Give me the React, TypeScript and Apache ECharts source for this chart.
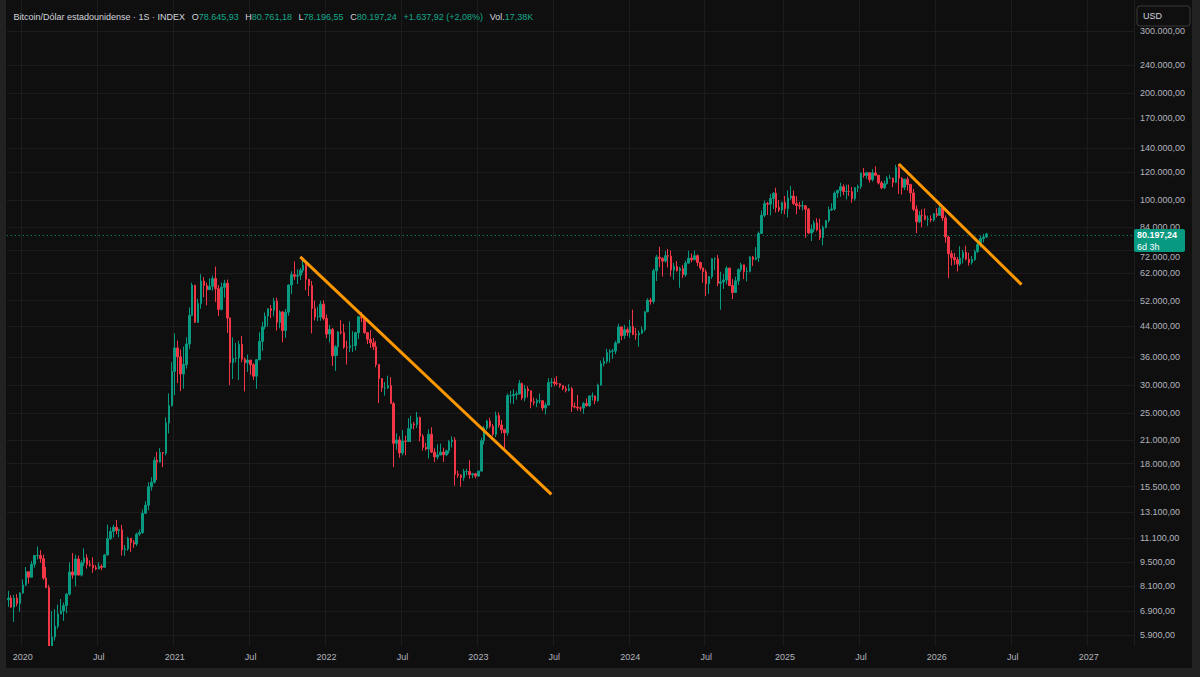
import React, { useEffect, useRef } from "react";
import * as echarts from "echarts";

// ---- DATA (weekly candles, USD) ----
const START_WEEK = "2019-12-02";
const AXIS_WEEKS = 386;
const FIRST_OPEN = 7420;

const close2019 = [7510, 7080, 7500, 7250, 7760];
const high2019 = [7870, 7650, 7660, 7700, 7800];
const low2019 = [7090, 7030, 6430, 7120, 6870];

const close2020 = [8180, 8910, 8600, 9350, 9900, 9900, 9700, 8550, 8040, 5360, 5830, 6250, 6770, 6900, 7150, 7700, 8900, 8720, 9680, 8720, 9450, 9750, 9340, 9300, 9140, 9070, 9230, 9170, 9930, 11050, 11580, 11910, 11650, 11700, 10280, 10330, 11080, 10770, 10670, 11380, 11500, 13030, 13740, 15480, 15960, 18400, 18180, 19360, 19270, 23460, 26250, 32800];
const high2020 = [8470, 9190, 8780, 9550, 9940, 10500, 10250, 9960, 9190, 8180, 6900, 6980, 7200, 7460, 7290, 7750, 9460, 10070, 9960, 9900, 9600, 10380, 9990, 9600, 9790, 9310, 9470, 9350, 10000, 12100, 11900, 12100, 12480, 11780, 12080, 10600, 11180, 10990, 10950, 11490, 11720, 13350, 14100, 15960, 16480, 18800, 19420, 19900, 19400, 24300, 28400, 34800];
const low2020 = [7730, 8110, 8250, 8570, 9150, 9650, 9450, 8450, 8000, 3850, 4450, 5690, 6150, 6780, 6470, 6800, 7630, 8520, 8100, 8700, 8640, 9250, 9100, 9200, 8850, 8990, 9060, 9000, 9150, 9940, 10950, 11130, 11380, 11150, 9900, 9880, 10210, 10140, 10400, 10530, 11220, 11400, 12990, 13290, 15100, 15800, 16200, 18150, 17600, 19000, 21900, 26100];

const close2021 = [38200, 36050, 32260, 34300, 39200, 47200, 57480, 45140, 50970, 59000, 57350, 55800, 57050, 60000, 56150, 49100, 56700, 58200, 46400, 34700, 35680, 35800, 39100, 35500, 34700, 35300, 34250, 31800, 35400, 39850, 43800, 47000, 49300, 48800, 51800, 45100, 48300, 42800, 48200, 57500, 61500, 60900, 61300, 63300, 65500, 59700, 57300, 49400, 46700, 46700, 50800, 46300];
const high2021 = [41950, 40100, 37850, 38550, 40950, 49700, 58350, 57530, 52600, 61700, 60600, 58400, 60100, 61200, 64850, 57500, 58450, 59500, 59600, 46600, 40900, 39450, 40000, 41300, 35900, 36600, 35100, 34600, 35400, 42300, 45300, 48100, 49400, 50500, 52900, 52950, 48800, 48500, 49200, 57800, 62900, 67000, 63700, 64300, 69000, 66300, 59300, 59100, 51900, 50000, 51900, 52100];
const low2021 = [28100, 30400, 28850, 29300, 33400, 38000, 47000, 44900, 44950, 49300, 53200, 50400, 55900, 55500, 51500, 47000, 48800, 53000, 42100, 30000, 31200, 34800, 31000, 34800, 28800, 32700, 32100, 31000, 29300, 35200, 37500, 43100, 43900, 46400, 46900, 42800, 43400, 39600, 40800, 47100, 54200, 59500, 57900, 59500, 62300, 55600, 53500, 42000, 45700, 45500, 45600, 45700];

const close2022 = [41800, 43100, 36300, 38500, 42400, 42200, 38400, 38300, 38800, 38800, 42200, 46800, 46400, 42200, 40400, 39500, 38500, 34300, 31300, 29450, 29450, 29900, 26600, 20550, 21000, 19300, 20850, 20800, 22600, 23300, 23200, 24300, 21500, 20000, 19800, 21800, 19400, 18800, 19050, 19400, 19070, 19570, 20800, 21000, 16800, 16700, 16450, 17100, 17100, 16750, 16850, 16600];
const high2022 = [47500, 44400, 43500, 38900, 42600, 45800, 44700, 40000, 45400, 42600, 42400, 47000, 48200, 47000, 42400, 42900, 40800, 40000, 34200, 31000, 30600, 31900, 31600, 26900, 21900, 21500, 22400, 21600, 24200, 24600, 23600, 25200, 24450, 21800, 20600, 22500, 22800, 19900, 20400, 20500, 19950, 19700, 21000, 21500, 21400, 17200, 16800, 17400, 17400, 18400, 16950, 16950];
const low2022 = [40700, 39600, 34000, 32900, 36300, 41700, 38000, 34300, 37200, 37200, 37600, 40500, 45200, 41900, 39200, 38200, 37700, 33700, 26700, 28700, 28000, 29300, 26600, 17600, 19700, 18700, 19000, 19000, 20700, 20700, 22500, 22700, 20800, 19600, 19600, 18600, 19300, 18200, 18500, 19000, 18200, 18900, 19200, 20000, 15600, 16400, 15500, 16100, 16700, 16300, 16400, 16350];

const close2023 = [17150, 20900, 22700, 23750, 22950, 21780, 24600, 23150, 22430, 22000, 28000, 28000, 28200, 28330, 30300, 27590, 29250, 28900, 26900, 26750, 27100, 27100, 25850, 26340, 30500, 30600, 30300, 30250, 29900, 29300, 29000, 29300, 26100, 26000, 25850, 25830, 26600, 26250, 27950, 27950, 27150, 30000, 34500, 35000, 37100, 37400, 37450, 39450, 43800, 41400, 43000, 42250];
const high2023 = [17200, 21300, 23000, 23950, 24250, 23300, 25250, 25100, 23900, 22600, 28400, 28900, 29200, 28800, 31000, 30500, 30000, 29800, 29000, 27650, 27500, 28400, 27150, 26800, 31400, 31400, 31400, 31800, 30400, 30000, 29800, 30200, 29650, 26800, 28150, 26100, 26900, 27500, 28050, 28600, 28000, 30300, 35200, 35900, 38000, 37900, 38000, 40000, 44700, 43500, 44400, 43700];
const low2023 = [16500, 17100, 20400, 22400, 22650, 21500, 21400, 22750, 21900, 19600, 21600, 26600, 26500, 27300, 28200, 27200, 27000, 27700, 25800, 26300, 26000, 26600, 25400, 24800, 26300, 29600, 29800, 29950, 29500, 29000, 28600, 28800, 25200, 25800, 25400, 25300, 24900, 26100, 26000, 27150, 26500, 26900, 29900, 33900, 34500, 34700, 35600, 36700, 39400, 40200, 40500, 41300];

const close2024 = [43900, 41700, 41600, 42050, 43000, 48300, 52100, 51700, 63100, 68900, 68400, 67200, 69600, 69400, 63400, 64900, 63100, 64000, 61500, 66300, 68500, 67800, 69600, 66600, 64300, 62700, 58000, 60800, 68200, 68250, 58150, 58700, 59400, 64200, 57300, 54800, 59100, 63600, 65600, 62800, 62900, 69000, 67950, 68700, 80400, 90500, 97700, 97300, 101000, 104500, 95200, 93700, 98300];
const high2024 = [45900, 49000, 43500, 42800, 43900, 48600, 52800, 52900, 64000, 70000, 73800, 68900, 71800, 72700, 72000, 66400, 67200, 64700, 65500, 67400, 71900, 70600, 71900, 70200, 66900, 63400, 63700, 61000, 68400, 68800, 70000, 62700, 61800, 65000, 64500, 59800, 60700, 64100, 66500, 65500, 64500, 69400, 69500, 73600, 81500, 93400, 99600, 98800, 104000, 105200, 108300, 99900, 98900];
const low2024 = [40800, 41500, 40300, 38500, 41800, 42500, 48200, 50600, 50900, 59000, 64600, 60800, 66500, 64500, 60800, 59600, 62800, 56500, 60200, 60700, 66300, 66700, 68500, 65100, 63400, 58400, 53500, 54300, 59900, 63400, 57100, 49000, 56100, 57800, 57200, 52500, 54600, 57500, 62700, 59800, 58900, 62400, 65100, 67500, 66800, 80200, 89400, 90700, 90500, 94200, 92200, 92500, 91500];

const close2025 = [94500, 101300, 102600, 97700, 96500, 96100, 96300, 94200, 80700, 82600, 86100, 82400, 78400, 83700, 87500, 93700, 94300, 104600, 106500, 109000, 105700, 105700, 105600, 100900, 108400, 109200, 119100, 117300, 119400, 114200, 119300, 117500, 111800, 108300, 111200, 115300, 115300, 112200, 123500, 115200, 108600, 114500, 110600, 104700, 94200, 86800, 90400, 90300, 88200, 88400, 87800, 91500];
const high2025 = [102700, 106400, 109600, 106400, 102500, 98800, 99500, 96500, 95000, 85300, 87500, 88800, 88500, 84700, 87700, 95800, 97900, 105800, 106700, 111900, 110700, 110400, 110600, 108900, 108500, 110500, 119500, 123200, 120200, 119900, 122300, 124500, 117600, 113300, 113400, 116800, 117900, 115500, 125700, 126200, 116000, 114900, 116400, 111100, 107400, 96600, 93000, 94100, 94600, 90300, 90500, 91900];
const low2025 = [91200, 89300, 100100, 96800, 91200, 94100, 93400, 78200, 80100, 76600, 81100, 81600, 77100, 74400, 83100, 86300, 93100, 93400, 101300, 102100, 103100, 100400, 102700, 98200, 99600, 105200, 107500, 115700, 114800, 112000, 112700, 116800, 110600, 107300, 107300, 110600, 114700, 108700, 111600, 104000, 103600, 106700, 106300, 98900, 93000, 80600, 86100, 83800, 87600, 84400, 86600, 86900];

const close2026 = [90500, 95000, 89000, 78600, 70500, 68800, 67800, 65900, 68500, 71200, 68100, 66600, 67900, 71500, 74900, 77800, 78645.93, 80197.24];
const high2026 = [94800, 97900, 95500, 90500, 79300, 72000, 70900, 69000, 74000, 72300, 74300, 71000, 69500, 72400, 76000, 79400, 80200, 80761.18];
const low2026 = [89300, 90300, 87300, 75700, 60100, 65300, 65600, 62800, 65100, 66200, 67500, 65200, 65700, 67300, 70800, 73500, 75900, 78196.55];

const priceTicks = [300000, 240000, 200000, 170000, 140000, 120000, 100000, 84000, 72000, 62000, 52000, 44000, 36000, 30000, 25000, 21000, 18000, 15500, 13100, 11100, 9500, 8100, 6900, 5900];

const trendLine1 = [["2021-11-01", 69070], ["2023-06-26", 14740]];
const trendLine2 = [["2025-10-06", 126400], ["2026-07-27", 57680]];

const lastPrice = 80197.24;
const hiddenTick = 72000; // sits under the last-price tag

const closes = [...close2019, ...close2020, ...close2021, ...close2022, ...close2023, ...close2024, ...close2025, ...close2026];
const highs = [...high2019, ...high2020, ...high2021, ...high2022, ...high2023, ...high2024, ...high2025, ...high2026];
const lows = [...low2019, ...low2020, ...low2021, ...low2022, ...low2023, ...low2024, ...low2025, ...low2026];

// ---- helpers ----
const pad = (n: number) => (n < 10 ? "0" + n : "" + n);
function weekLabels(): string[] {
  const out: string[] = [];
  const t0 = Date.parse(START_WEEK + "T00:00:00Z");
  for (let i = 0; i < AXIS_WEEKS; i++) {
    const d = new Date(t0 + i * 7 * 86400000);
    out.push(d.getUTCFullYear() + "-" + pad(d.getUTCMonth() + 1) + "-" + pad(d.getUTCDate()));
  }
  return out;
}
function isLabelWeek(v: string) {
  const m = v.slice(5, 7);
  const day = parseInt(v.slice(8, 10), 10);
  return (m === "01" || m === "07") && day <= 7;
}
function fmtPrice(v: number) {
  const n = Math.round(v * 100) / 100;
  const intPart = Math.floor(n);
  const dec = Math.round((n - intPart) * 100);
  const s = String(intPart).replace(/\B(?=(\d{3})+(?!\d))/g, ".");
  return s + "," + pad(dec);
}
const lg = (v: number) => Math.log10(v);

const UP = "#089981";
const DOWN = "#f23645";
const BG = "#0f0f0f";
const FONT = "Liberation Sans";
const GRID_W = AXIS_WEEKS * 2.92;

export default function App() {
  const ref = useRef<HTMLDivElement>(null);
  useEffect(() => {
    if (!ref.current) return;
    const chart = echarts.init(ref.current, undefined, { renderer: "svg" });
    const weeks = weekLabels();
    const candles = closes.map((c, i) => {
      const o = i === 0 ? FIRST_OPEN : closes[i - 1];
      return [lg(o), lg(c), lg(lows[i]), lg(highs[i])];
    });
    const tickLogs = priceTicks.map(lg);

    const G = "#d1d4dc";
    const V = "#14a88c";
    const header =
      "{g|Bitcoin/Dólar estadounidense · 1S · INDEX}  {g|O}{v|78.645,93}  {g|H}{v|80.761,18}  " +
      "{g|L}{v|78.196,55}  {g|C}{v|80.197,24}  {v|+1.637,92 (+2,08%)}  {g|Vol.}{v|17,38K}";

    chart.setOption({
      animation: false,
      backgroundColor: BG,
      grid: { left: 0.8, top: 0, width: GRID_W, height: 646 },
      xAxis: [
        {
          type: "category",
          data: weeks,
          boundaryGap: true,
          axisLine: { show: false },
          axisTick: { show: false },
          axisLabel: { show: false },
          splitLine: {
            show: true,
            interval: (_i: number, v: string) => isLabelWeek(v),
            lineStyle: { color: "#1c1c1c", width: 1 },
          },
        },
        {
          type: "category",
          data: weeks,
          position: "bottom",
          boundaryGap: true,
          z: 10,
          axisLine: { show: false },
          axisTick: { show: false },
          splitLine: { show: false },
          axisLabel: {
            interval: (_i: number, v: string) => isLabelWeek(v),
            formatter: (v: string) => (v.slice(5, 7) === "01" ? v.slice(0, 4) : "Jul"),
            color: "#b2b5be",
            fontSize: 9,
            fontFamily: FONT,
            margin: 6,
          },
        },
      ],
      yAxis: {
        type: "value",
        position: "right",
        min: 3.7401,
        max: 5.565,
        axisLine: { show: false },
        axisTick: { show: false, customValues: tickLogs },
        axisLabel: {
          customValues: tickLogs,
          formatter: (v: number) => {
            const p = Math.round(Math.pow(10, v));
            return p === hiddenTick ? "{s|" + fmtPrice(p) + "}" : fmtPrice(p);
          },
          rich: { s: { padding: [13, 0, 0, 0], color: "#b2b5be", fontSize: 9, fontFamily: FONT } },
          color: "#b2b5be",
          fontSize: 9,
          fontFamily: FONT,
          margin: 6,
        },
        splitLine: { show: true, lineStyle: { color: "#1c1c1c", width: 1 } },
      },
      series: [
        {
          type: "candlestick",
          data: candles,
          barWidth: 2,
          itemStyle: { color: UP, color0: DOWN, borderColor: UP, borderColor0: DOWN, borderWidth: 1 },
          markLine: {
            silent: true,
            symbol: "none",
            label: { show: false },
            lineStyle: { color: UP, type: [1, 3], width: 1 },
            data: [{ yAxis: lg(lastPrice) }],
          },
        },
        {
          type: "line",
          data: trendLine1.map(([d, v]) => [d, lg(v as number)]),
          symbol: "none",
          lineStyle: { color: "#ff9800", width: 3 },
          silent: true,
          z: 5,
        },
        {
          type: "line",
          data: trendLine2.map(([d, v]) => [d, lg(v as number)]),
          symbol: "none",
          lineStyle: { color: "#ff9800", width: 3 },
          silent: true,
          z: 5,
        },
      ],
      graphic: [
        // time-scale strip: keeps wicks from running below the pane
        {
          type: "rect",
          shape: { x: 0, y: 646, width: 1186, height: 22 },
          style: { fill: BG },
          z: 6,
          silent: true,
        },
        {
          type: "text",
          x: 7.4,
          y: 17,
          z: 11,
          style: {
            text: header,
            textVerticalAlign: "middle",
            rich: {
              g: { fill: G, fontSize: 9, fontFamily: FONT },
              v: { fill: V, fontSize: 9, fontFamily: FONT },
            },
          },
        },
        {
          type: "rect",
          shape: { x: 1131, y: 6, width: 53, height: 20, r: 3 },
          style: { fill: BG, stroke: "#3a3a3a", lineWidth: 1 },
          z: 10,
        },
        {
          type: "text",
          x: 1137,
          y: 16,
          z: 11,
          style: { text: "USD", fill: G, font: `9px "${FONT}"`, textVerticalAlign: "middle" },
        },
        {
          type: "rect",
          shape: { x: 1128, y: 229, width: 51, height: 23, r: 2 },
          style: { fill: UP },
          z: 10,
        },
        {
          type: "text",
          x: 1131,
          y: 235,
          z: 11,
          style: { text: fmtPrice(lastPrice), fill: "#ffffff", font: `bold 9px "${FONT}"`, textVerticalAlign: "middle" },
        },
        {
          type: "text",
          x: 1131,
          y: 246.5,
          z: 11,
          style: { text: "6d 3h", fill: "#ffffff", font: `9px "${FONT}"`, textVerticalAlign: "middle" },
        },
      ],
    });
    return () => chart.dispose();
  }, []);

  return (
    <div style={{ position: "fixed", left: 0, top: 0, width: 1200, height: 677, background: "#222222" }}>
      <div ref={ref} style={{ position: "absolute", left: 6, top: 0, width: 1186, height: 668 }} />
    </div>
  );
}
